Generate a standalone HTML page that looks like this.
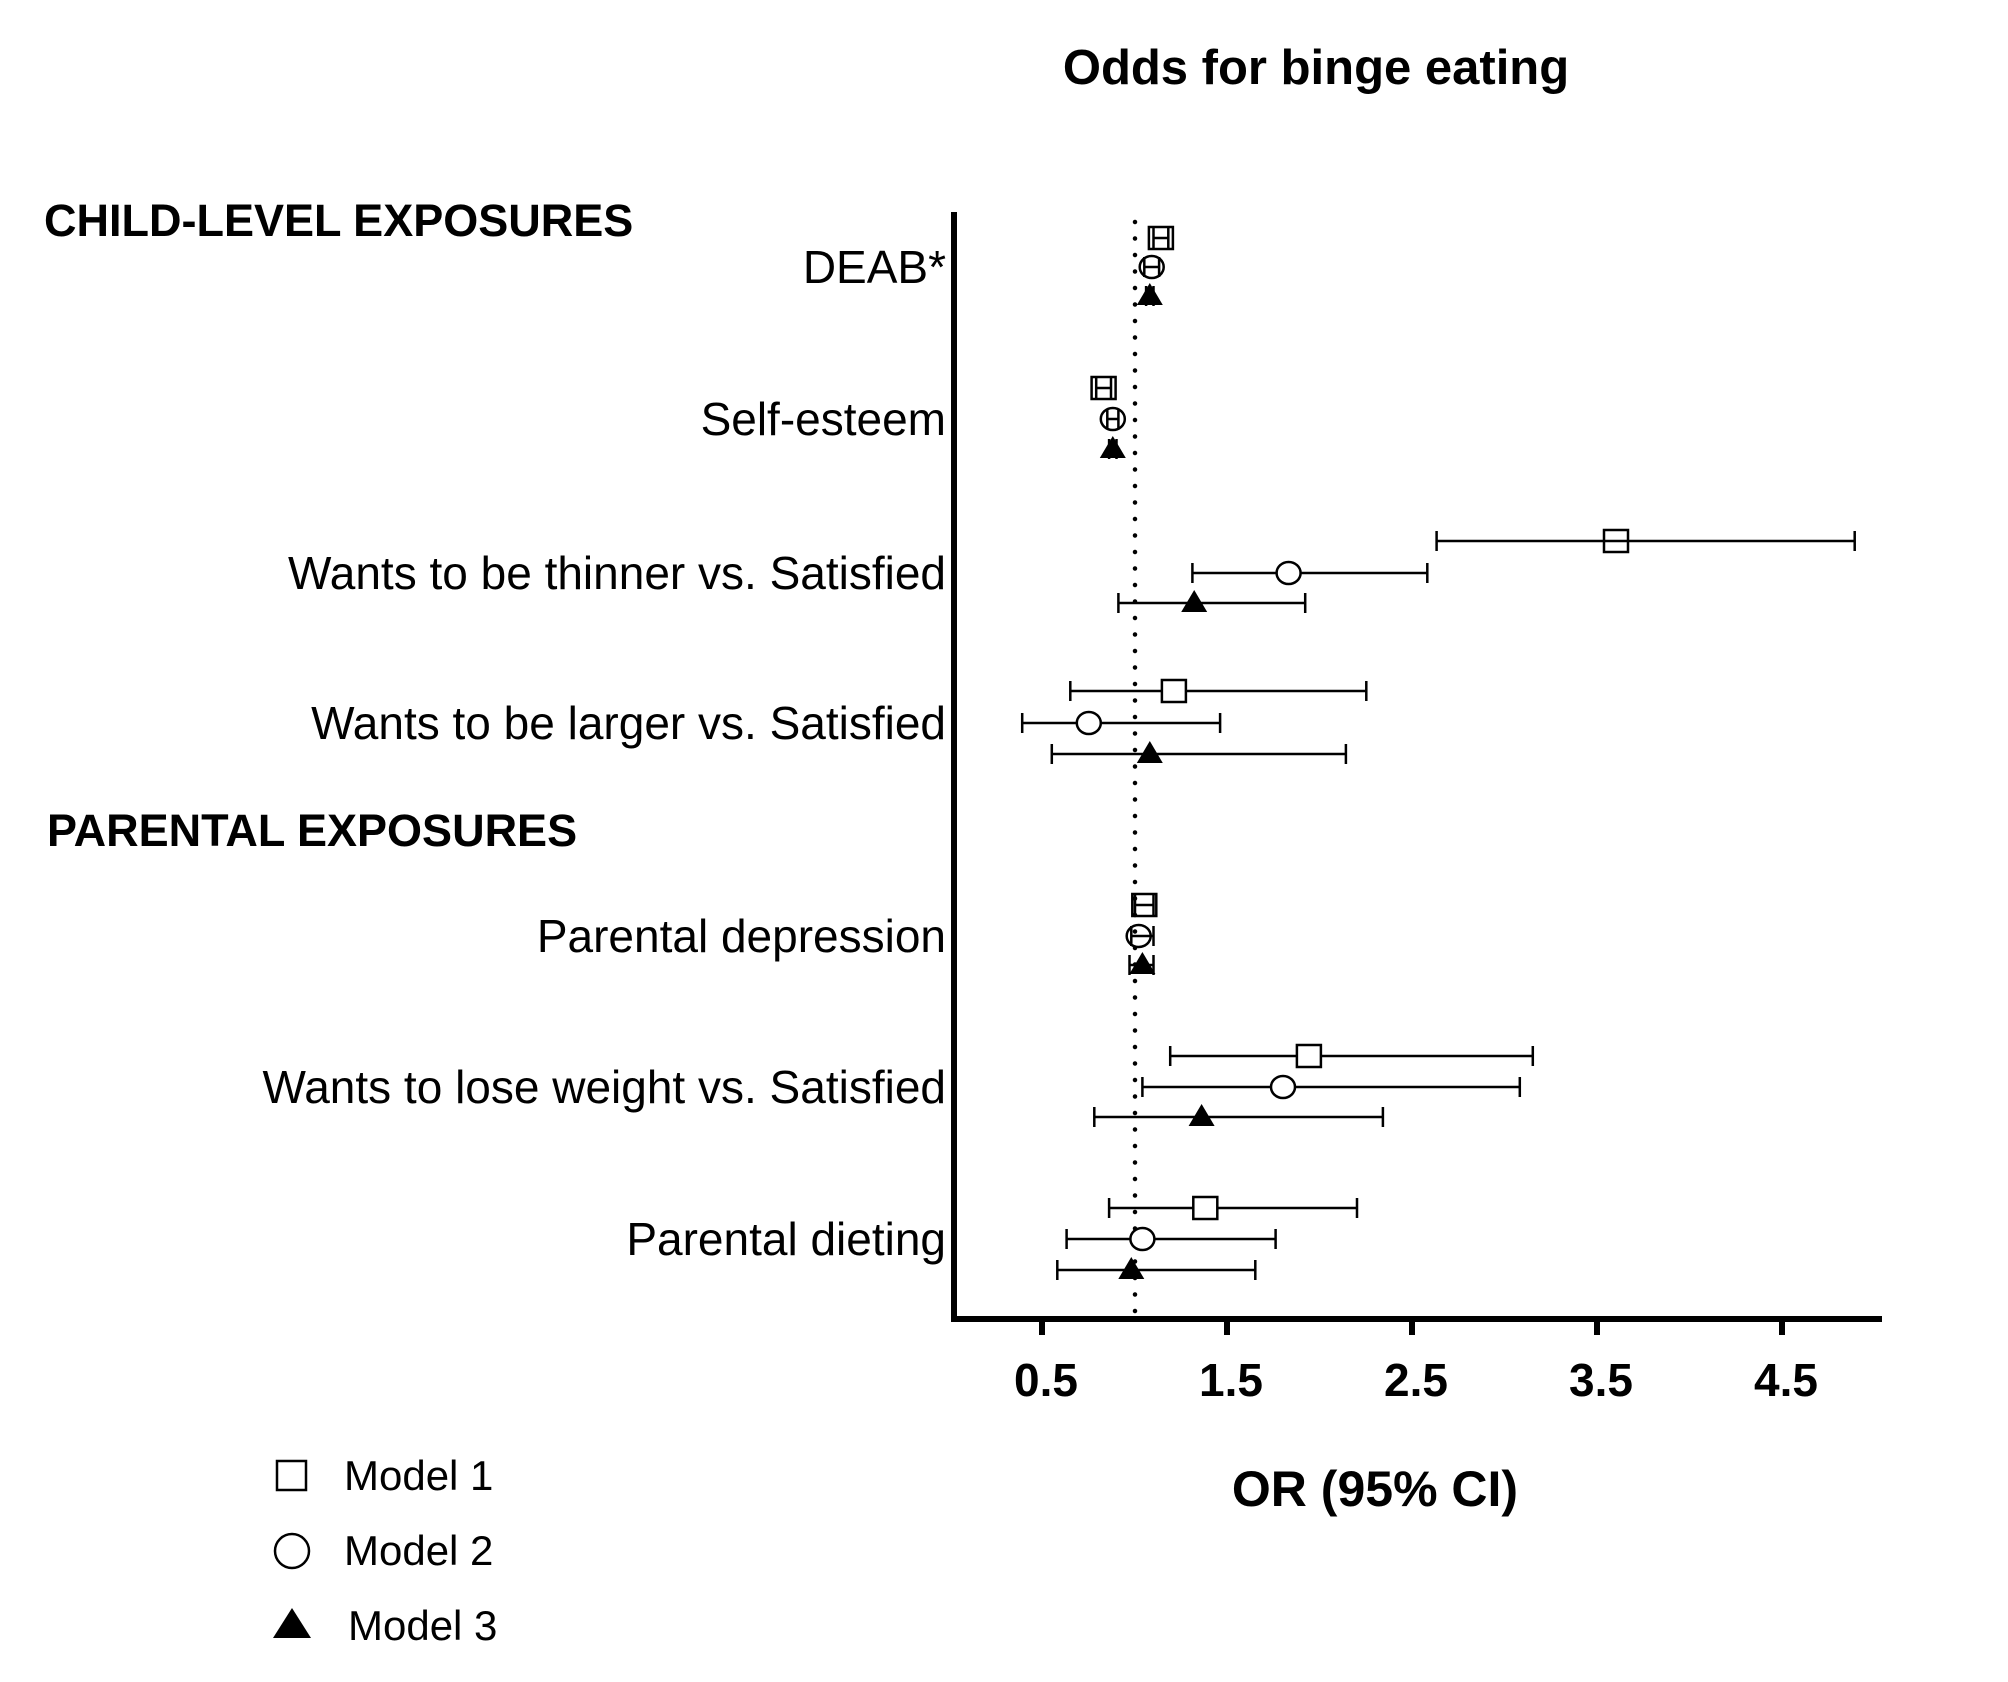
<!DOCTYPE html>
<html><head><meta charset="utf-8"><style>html,body{margin:0;padding:0;background:#fff}svg{display:block}</style></head><body>
<svg width="2008" height="1682" viewBox="0 0 2008 1682" xmlns="http://www.w3.org/2000/svg" font-family="Liberation Sans, Arial, sans-serif">
<rect width="2008" height="1682" fill="#fff"/>
<text x="1316" y="84" font-size="49" font-weight="bold" text-anchor="middle">Odds for binge eating</text>
<text x="44" y="236" font-size="45" font-weight="bold">CHILD-LEVEL EXPOSURES</text>
<text x="47" y="846" font-size="45" font-weight="bold">PARENTAL EXPOSURES</text>
<g font-size="46" text-anchor="end">
<text x="946" y="283">DEAB*</text>
<text x="946" y="435">Self-esteem</text>
<text x="946" y="589">Wants to be thinner vs. Satisfied</text>
<text x="946" y="739">Wants to be larger vs. Satisfied</text>
<text x="946" y="952">Parental depression</text>
<text x="946" y="1103">Wants to lose weight vs. Satisfied</text>
<text x="946" y="1255">Parental dieting</text>
</g>
<line x1="1135" y1="222" x2="1135" y2="1316" stroke="#000" stroke-width="4.5" stroke-dasharray="0 16.5" stroke-linecap="round"/>
<g stroke="#000" stroke-width="6" fill="none">
<line x1="954" y1="212" x2="954" y2="1322"/>
<line x1="951" y1="1319" x2="1882" y2="1319"/>
<line x1="1042" y1="1319" x2="1042" y2="1335"/>
<line x1="1227" y1="1319" x2="1227" y2="1335"/>
<line x1="1412" y1="1319" x2="1412" y2="1335"/>
<line x1="1597" y1="1319" x2="1597" y2="1335"/>
<line x1="1782" y1="1319" x2="1782" y2="1335"/>
</g>
<g font-size="46" font-weight="bold" text-anchor="middle">
<text x="1046" y="1396">0.5</text><text x="1231" y="1396">1.5</text><text x="1416" y="1396">2.5</text><text x="1601" y="1396">3.5</text><text x="1786" y="1396">4.5</text>
</g>
<text x="1375" y="1506" font-size="50" font-weight="bold" text-anchor="middle">OR (95% CI)</text>
<g stroke="#000" stroke-width="2.5" fill="none">
<!-- DEAB -->
<path d="M1153.5 238H1168.3M1153.5 228V248M1168.3 228V248"/><rect x="1148.9" y="227" width="24" height="22"/>
<path d="M1144.3 267H1159.1M1144.3 257V277M1159.1 257V277"/><ellipse cx="1151.7" cy="267" rx="12" ry="11"/>
<path d="M1146.1 296H1153.5M1146.1 286V306M1153.5 286V306"/><polygon points="1149.8,283 1136.8,305 1162.8,305" fill="#000" stroke="none"/>
<!-- Self-esteem -->
<path d="M1096.2 388H1111M1096.2 378V398M1111 378V398"/><rect x="1091.6" y="377" width="24" height="22"/>
<path d="M1107.3 419H1118.4M1107.3 409V429M1118.4 409V429"/><ellipse cx="1112.8" cy="419" rx="12" ry="11"/>
<path d="M1109.1 449H1116.5M1109.1 439V459M1116.5 439V459"/><polygon points="1112.8,436 1099.8,458 1125.8,458" fill="#000" stroke="none"/>
<!-- Thinner -->
<path d="M1436.6 541H1854.7M1436.6 531V551M1854.7 531V551"/><rect x="1604" y="530" width="24" height="22"/>
<path d="M1192.4 573H1427.3M1192.4 563V583M1427.3 563V583"/><ellipse cx="1288.6" cy="573" rx="12" ry="11" fill="#fff"/>
<path d="M1118.4 603H1305.2M1118.4 593V613M1305.2 593V613"/><polygon points="1194.2,590 1181.2,612 1207.2,612" fill="#000" stroke="none"/>
<!-- Larger -->
<path d="M1070.3 691H1366.3M1070.3 681V701M1366.3 681V701"/><rect x="1161.9" y="680" width="24" height="22" fill="#fff"/>
<path d="M1022.2 723H1220.1M1022.2 713V733M1220.1 713V733"/><ellipse cx="1088.8" cy="723" rx="12" ry="11" fill="#fff"/>
<path d="M1051.8 754H1345.9M1051.8 744V764M1345.9 744V764"/><polygon points="1149.8,741 1136.8,763 1162.8,763" fill="#000" stroke="none"/>
<!-- Parental depression -->
<path d="M1135 905H1153.5M1135 895V915M1153.5 895V915"/><rect x="1132.3" y="894" width="24" height="22"/>
<path d="M1131.3 936H1153.5M1131.3 926V946M1153.5 926V946"/><ellipse cx="1138.7" cy="936" rx="12" ry="11"/>
<path d="M1129.5 965H1153.5M1129.5 955V975M1153.5 955V975"/><polygon points="1142.4,952 1129.4,974 1155.4,974" fill="#000" stroke="none"/>
<!-- Lose weight -->
<path d="M1170.2 1056H1532.8M1170.2 1046V1066M1532.8 1046V1066"/><rect x="1296.9" y="1045" width="24" height="22" fill="#fff"/>
<path d="M1142.4 1087H1519.8M1142.4 1077V1097M1519.8 1077V1097"/><ellipse cx="1283" cy="1087" rx="12" ry="11" fill="#fff"/>
<path d="M1094.3 1117H1382.9M1094.3 1107V1127M1382.9 1107V1127"/><polygon points="1201.6,1104 1188.6,1126 1214.6,1126" fill="#000" stroke="none"/>
<!-- Dieting -->
<path d="M1109.1 1208H1357M1109.1 1198V1218M1357 1198V1218"/><rect x="1193.3" y="1197" width="24" height="22" fill="#fff"/>
<path d="M1066.6 1239H1275.6M1066.6 1229V1249M1275.6 1229V1249"/><ellipse cx="1142.4" cy="1239" rx="12" ry="11" fill="#fff"/>
<path d="M1057.3 1270H1255.3M1057.3 1260V1280M1255.3 1260V1280"/><polygon points="1131.3,1257 1118.3,1279 1144.3,1279" fill="#000" stroke="none"/>
</g>
<g font-size="42">
<rect x="277" y="1461" width="29" height="29" fill="none" stroke="#000" stroke-width="2.5"/>
<text x="344" y="1490">Model 1</text>
<circle cx="292" cy="1551" r="17" fill="none" stroke="#000" stroke-width="2.5"/>
<text x="344" y="1565">Model 2</text>
<polygon points="292,1608 273,1638 311,1638" fill="#000"/>
<text x="348" y="1640">Model 3</text>
</g>
</svg>
</body></html>
